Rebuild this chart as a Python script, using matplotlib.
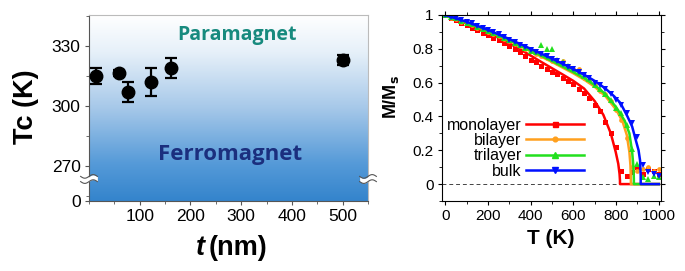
"""
Tc vs thickness (left) + M/Ms vs T for mono/bi/tri/bulk (right)
"""

import numpy as np
import matplotlib
matplotlib.use('Agg')
import matplotlib.pyplot as plt
from matplotlib.colors import LinearSegmentedColormap
from matplotlib.transforms import blended_transform_factory
from matplotlib.ticker import MultipleLocator

plt.rcParams['font.family'] = ['Liberation Sans', 'DejaVu Sans']

# ---- left panel data ----
thick_nm = [14, 59, 76, 122, 161, 501]
tc_k = [315.0, 316.3, 307.0, 312.0, 319.0, 323.0]
tc_err = [4.0, 1.5, 5.0, 7.0, 5.0, 2.5]

# ---- right panel: fitted lines ----
mono_line_T = [0, 50, 100, 150, 200, 250, 300, 350, 400, 450, 500, 550, 600, 650, 700, 740, 775, 798, 810, 816, 818, 818, 1000]
mono_line_M = [1.0, .975, .95, .922, .895, .865, .832, .797, .76, .722, .685, .648, .61, .565, .49, .41, .30, .19, .12, .06, .02, 0, 0]
bi_line_T = [0, 100, 200, 300, 400, 500, 600, 650, 700, 750, 800, 830, 850, 862, 867, 869, 869, 1000]
bi_line_M = [1.0, .955, .905, .848, .785, .722, .655, .618, .575, .52, .44, .37, .29, .19, .11, .03, 0, 0]
tri_line_T = [0, 100, 200, 300, 400, 500, 600, 650, 700, 750, 800, 840, 862, 875, 881, 883, 883, 1000]
tri_line_M = [1.0, .957, .908, .852, .79, .728, .662, .627, .585, .532, .455, .375, .30, .19, .10, .03, 0, 0]
bulk_line_T = [0, 100, 200, 300, 400, 500, 600, 650, 700, 750, 790, 820, 853, 875, 892, 905, 912, 915, 915, 1000]
bulk_line_M = [1.0, .96, .912, .858, .80, .742, .68, .647, .61, .565, .52, .48, .40, .34, .26, .20, .14, .05, 0, 0]

# ---- right panel: measured points ----
T_pts = [0, 25, 50, 75, 100, 125, 150, 175, 200, 225, 250, 275, 300, 325, 350, 375, 400,
         425, 450, 475, 500, 525, 550, 575, 600, 625, 650, 675, 700, 725, 750, 775, 800,
         825, 850, 875, 900, 925, 950, 975, 1000]
mono_pts = [1.0, .985, .97, .955, .94, .925, .91, .895, .88, .865, .85, .835, .815, .80, .78, .76, .735,
            .72, .70, .68, .665, .65, .63, .61, .59, .56, .54, .51, .47, .43, .37, .30, .22,
            .08, .05, .07, .10, .06, .09, .08, .06]
bi_pts = [1.0, .985, .975, .96, .95, .94, .925, .915, .90, .89, .875, .86, .845, .83, .815, .80, .785,
          .77, .755, .745, .73, .715, .73, .70, .68, .68, .63, .61, .585, .55, .53, .49, .44,
          .38, .27, .10, .08, .09, .10, .08, .09]
tri_pts = [1.0, .99, .98, .965, .955, .945, .93, .92, .905, .895, .88, .865, .85, .835, .82, .805, .79,
           .78, .82, .80, .80, .735, .72, .70, .68, .66, .64, .62, .585, .56, .53, .50, .45,
           .42, .35, .21, .12, .04, .03, .05, .04]
bulk_pts = [1.0, .99, .98, .97, .96, .95, .935, .925, .91, .90, .885, .87, .855, .84, .825, .81, .795,
            .78, .77, .755, .74, .725, .71, .695, .68, .665, .645, .625, .60, .585, .56, .535, .50,
            .465, .42, .36, .28, .11, .07, .06, .05]

fig = plt.figure(figsize=(6.85, 2.71), dpi=100)
W, H = 685, 271


def px_axes(x0, x1, y0, y1):
    return fig.add_axes([x0 / W, 1 - y1 / H, (x1 - x0) / W, (y1 - y0) / H])


# ============================================================
# left: Tc vs t
# ============================================================
ax = px_axes(89, 368, 15, 201)
y0 = 252.5   # where the "0" sits after the axis break
ax.set_xlim(0, 550)
ax.set_ylim(y0, 345.5)

cmap = LinearSegmentedColormap.from_list(
    'bg', [(0.0, '#3484cc'), (0.2, '#559ad8'), (0.5, '#a6c8e9'), (0.8, '#e6f0f9'), (1.0, '#ffffff')])
grad = np.linspace(0, 1, 256).reshape(-1, 1)
ax.imshow(grad, extent=[0, 550, y0, 345.5], origin='lower', aspect='auto', cmap=cmap, zorder=0)

ax.errorbar(thick_nm, tc_k, yerr=tc_err, fmt='o', color='black', ms=9,
            elinewidth=1.6, capsize=4, capthick=1.6, zorder=3)

ax.text(292, 335.5, 'Paramagnet', ha='center', va='center', fontsize=14,
        fontweight='bold', color='#178a7e', family=['Open Sans', 'DejaVu Sans'])
ax.text(279, 276, 'Ferromagnet', ha='center', va='center', fontsize=16,
        fontweight='bold', color='#1b2f7e', family=['Open Sans', 'DejaVu Sans'])

ax.set_yticks([y0, 270, 300, 330])
ax.set_yticklabels(['0', '270', '300', '330'])
ax.yaxis.set_minor_locator(MultipleLocator(15))
ax.set_xticks([100, 200, 300, 400, 500])
ax.xaxis.set_minor_locator(MultipleLocator(50))
ax.tick_params(which='both', direction='out', labelsize=12.5, color='#555555', pad=3)
ax.tick_params(which='major', length=3)
ax.tick_params(which='minor', length=2)
for s in ['left', 'bottom']:
    ax.spines[s].set_color('#555555')
for s in ['top', 'right']:
    ax.spines[s].set_color('#bbbbbb')

# axis break marks on both edges
tr = blended_transform_factory(ax.transAxes, ax.transData)
yb = 263.5
for xe in (0.0, 1.0):
    xs = np.linspace(xe - 0.03, xe + 0.03, 30)
    wave = 0.9 * np.sin((xs - xe) / 0.03 * np.pi)
    ax.fill_between(xs, yb - 1.2 + wave, yb + 1.2 + wave, color='white',
                    transform=tr, clip_on=False, zorder=4, lw=0)
    for off in (-1.3, 1.3):
        ax.plot(xs, yb + off + wave, color='#555555', lw=0.8,
                transform=tr, clip_on=False, zorder=5)

fig.text(26 / W, 1 - 107 / H, 'Tc (K)', rotation=90, ha='center', va='center',
         fontsize=19.5, fontweight='bold')
fig.text(200 / W, 1 - 248 / H, 't', ha='center', va='center', fontsize=19.5,
         fontweight='bold', style='italic')
fig.text(238 / W, 1 - 248 / H, '(nm)', ha='center', va='center', fontsize=19.5,
         fontweight='bold')

# ============================================================
# right: M/Ms vs T
# ============================================================
ax2 = px_axes(442, 661, 15, 201)
series = [
    ('monolayer', mono_line_T, mono_line_M, mono_pts, '#ff0000', 's', 3.6),
    ('bilayer', bi_line_T, bi_line_M, bi_pts, '#ffa01e', 'o', 3.4),
    ('trilayer', tri_line_T, tri_line_M, tri_pts, '#22e01e', '^', 4.4),
    ('bulk', bulk_line_T, bulk_line_M, bulk_pts, '#0010ff', 'v', 4.4),
]
for name, lt, lm, pm, col, mk, ms in series:
    ax2.plot(T_pts, pm, ls='none', marker=mk, ms=ms, color=col, mew=0)
    ax2.plot(lt, lm, '-', color=col, lw=1.8)

ax2.axhline(0, color='#444444', lw=0.7, ls=(0, (4, 3)), zorder=1)
ax2.set_xlim(-15, 1010)
ax2.set_ylim(-0.1, 1.0)
ax2.set_xticks([0, 200, 400, 600, 800, 1000])
ax2.set_yticks([0, 0.2, 0.4, 0.6, 0.8, 1.0])
ax2.set_yticklabels(['0', '0.2', '0.4', '0.6', '0.8', '1'])
ax2.xaxis.set_minor_locator(MultipleLocator(100))
ax2.yaxis.set_minor_locator(MultipleLocator(0.1))
ax2.tick_params(which='both', direction='out', top=True, right=True, labelsize=11, pad=3)
ax2.tick_params(which='major', length=3)
ax2.tick_params(which='minor', length=2)

# legend handles with marker in the middle
leg_lines = []
for name, lt, lm, pm, col, mk, ms in series:
    l, = ax2.plot([], [], '-', color=col, lw=1.8, marker=mk, ms=ms, label=name)
    leg_lines.append(l)
ax2.legend(handles=leg_lines, loc='upper right', bbox_to_anchor=(0.648, 0.448),
           frameon=False, markerfirst=False, numpoints=1, fontsize=11.5,
           handlelength=3.6, handletextpad=0.3, labelspacing=0.02, borderaxespad=0,
           borderpad=0)

fig.text(391 / W, 1 - 97 / H, r'M/M$_\mathbf{s}$', rotation=90, ha='center', va='center',
         fontsize=13, fontweight='bold')
fig.text(551 / W, 1 - 238 / H, 'T (K)', ha='center', va='center', fontsize=15,
         fontweight='bold')

fig.savefig('out.png', dpi=100)
